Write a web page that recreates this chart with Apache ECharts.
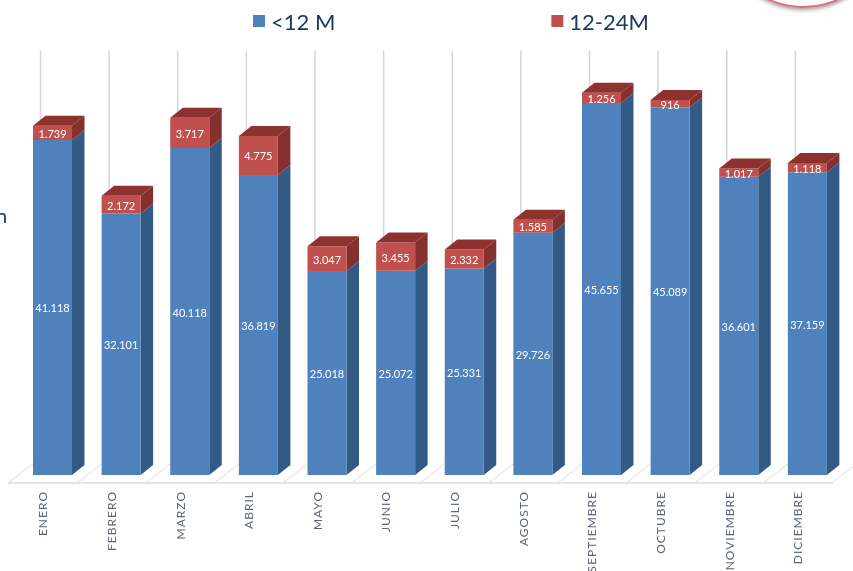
<!DOCTYPE html>
<html lang="es">
<head>
<meta charset="utf-8">
<style>
html,body{margin:0;padding:0;background:#fff;overflow:hidden;}
#chart{width:853px;height:571px;filter:blur(0.35px);}
#chart text.x{letter-spacing:1px;}
</style>
<script src="https://cdn.jsdelivr.net/npm/echarts@6/dist/echarts.min.js"></script>
</head>
<body>
<div id="chart"></div>
<script>
const categories = ['ENERO','FEBRERO','MARZO','ABRIL','MAYO','JUNIO','JULIO','AGOSTO','SEPTIEMBRE','OCTUBRE','NOVIEMBRE','DICIEMBRE'];
const under12 = [41118,32101,40118,36819,25018,25072,25331,29726,45655,45089,36601,37159];
const from12to24 = [1739,2172,3717,4775,3047,3455,2332,1585,1256,916,1017,1118];
const seriesNames = ['<12 M','12-24M'];

const fmt = v => String(v).replace(/\B(?=(\d{3})+$)/g,'.');

function barRenderer(front, side, top, drawTop){
  return function(params, api){
    const i = api.value(0);
    const low = api.coord([i, api.value(1)]);
    const high = api.coord([i, api.value(2)]);
    const band = api.size([1,0])[0];
    const x0 = low[0] - band/2 + 24.5, w = 39, dx = 12.5, dy = 10, lift = 8;
    const y0 = low[1] - lift, y1 = high[1] - lift, x1 = x0 + w;
    const children = [
      {type:'polygon', shape:{points:[[x1,y0],[x1+dx,y0-dy],[x1+dx,y1-dy],[x1,y1]]}, style:{fill:side}},
      {type:'rect', shape:{x:x0,y:y1,width:w,height:y0-y1}, style:{fill:front}}
    ];
    if(drawTop) children.push({type:'polygon', shape:{points:[[x0,y1],[x0+dx,y1-dy],[x1+dx,y1-dy],[x1,y1]]}, style:{fill:top}});
    children.push({type:'text', style:{x:x0+w/2, y:(y0+y1)/2+0.5, text:fmt(api.value(3)), fill:'#fff', font:'11px Lato', textAlign:'center', textVerticalAlign:'middle'}});
    return {type:'group', children};
  };
}
function wallRenderer(params, api){
  const i = api.value(0);
  const base = api.coord([i,0]);
  const topY = api.coord([i,50000])[1];
  const band = api.size([1,0])[0];
  const line = (x1,y1,x2,y2,c,lw)=>({type:'line', shape:{x1,y1,x2,y2}, style:{stroke:c, lineWidth:lw}});
  const left = base[0]-band/2, dx = 32, dy = 25;
  const out = [
    line(left,base[1],left+dx,base[1]-dy,'#dcdcdc',1),
    line(left+dx,base[1]-dy,left+dx,topY-dy,'#d6d6d6',1.5)
  ];
  if(i===categories.length-1) out.push(line(left+band,base[1],left+band+dx,base[1]-dy,'#dcdcdc',1));
  return {type:'group', children:out};
}

const chart = echarts.init(document.getElementById('chart'), null, {renderer:'svg'});
chart.setOption({
  animation:false,
  backgroundColor:'#fff',
  grid:{left:8.5,right:21,top:75.5,bottom:88},
  legend:{
    left:248, top:5, itemWidth:12, itemHeight:12, itemGap:216, icon:'rect',
    data:seriesNames,
    textStyle:{color:'#1f3864',fontFamily:'Lato',fontSize:22,padding:[0,0,0,1]}
  },
  xAxis:{
    type:'category', data:categories,
    axisLine:{lineStyle:{color:'#dcdcdc',width:1.5}},
    axisTick:{show:false},
    axisLabel:{rotate:90,interval:0,margin:8,color:'#5b6478',fontFamily:'Lato',fontSize:12}
  },
  yAxis:{type:'value',min:0,max:50000,show:false,splitLine:{show:false}},
  graphic:[
    {type:'circle',shape:{cx:803.5,cy:-76.6,r:83.6},style:{fill:'#fff',stroke:'#dd6f86',lineWidth:2,shadowBlur:4,shadowColor:'rgba(0,0,0,0.45)',shadowOffsetY:1.5},z:5},
    {type:'text',style:{x:-4,y:205,text:'n',fill:'#1f3864',font:'20px Lato'},z:5}
  ],
  series:[
    {type:'custom',name:'wall',z:1,silent:true,renderItem:wallRenderer,
     data:categories.map((c,i)=>[i])},
    {type:'custom',name:seriesNames[0],z:2,itemStyle:{color:'#4f81bd'},
     renderItem:barRenderer('#4f81bd','#335a85','#335a85',false),
     encode:{x:0,y:[1,2]},
     data:under12.map((v,i)=>[i,0,v,v])},
    {type:'custom',name:seriesNames[1],z:3,itemStyle:{color:'#c0504d'},
     renderItem:barRenderer('#c0504d','#85302e','#8e3230',true),
     encode:{x:0,y:[1,2]},
     data:from12to24.map((v,i)=>[i,under12[i],under12[i]+v,v])}
  ]
});
document.querySelectorAll('#chart svg text').forEach(t=>{
  if(categories.includes(t.textContent)) t.classList.add('x');
});
</script>
</body>
</html>
